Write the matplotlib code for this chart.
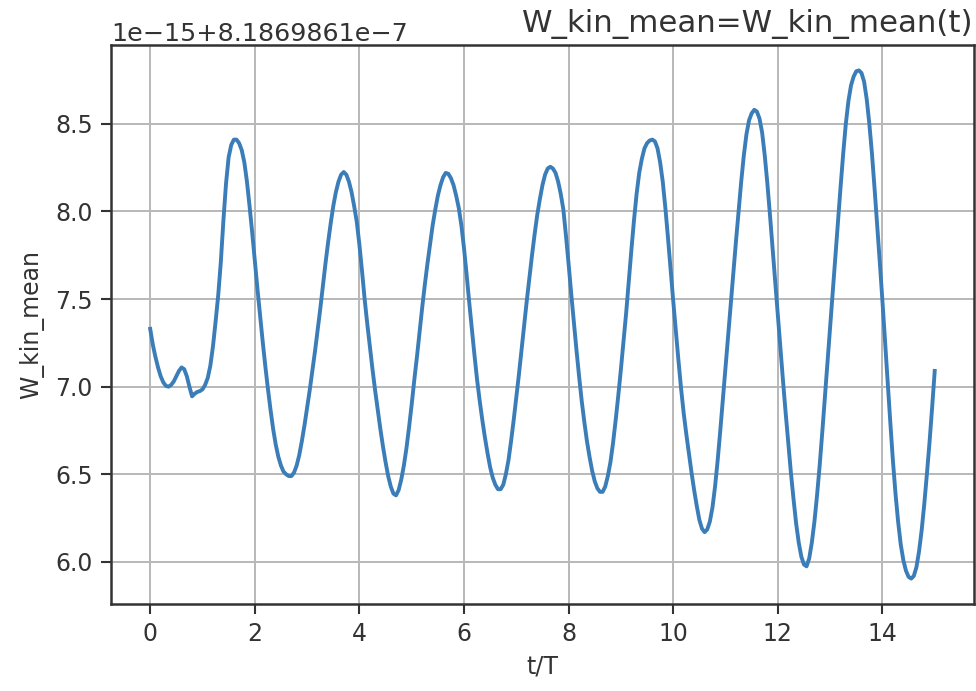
import numpy as np
import matplotlib
matplotlib.use("Agg")
import matplotlib.pyplot as plt

# W_kin_mean, in units of 1e-15 above the offset, every 0.05 t/T
base = 8.1869861e-7
scale = 1e-15
dt = 0.05
w_kin = [
    7.33, 7.24, 7.17, 7.11, 7.06, 7.025, 7.005, 7.00, 7.01, 7.03,
    7.06, 7.09, 7.11, 7.10, 7.06, 7.00, 6.945, 6.96, 6.97, 6.975,
    6.985, 7.01, 7.05, 7.12, 7.23, 7.37, 7.52, 7.71, 7.95, 8.16,
    8.31, 8.38, 8.41, 8.41, 8.39, 8.35, 8.28, 8.17, 8.03, 7.88,
    7.72, 7.56, 7.41, 7.26, 7.12, 6.99, 6.87, 6.76, 6.67, 6.60,
    6.55, 6.515, 6.50, 6.49, 6.49, 6.51, 6.55, 6.61, 6.69, 6.78,
    6.88, 6.98, 7.09, 7.20, 7.32, 7.44, 7.57, 7.70, 7.82, 7.93,
    8.03, 8.11, 8.17, 8.21, 8.225, 8.21, 8.17, 8.11, 8.03, 7.94,
    7.81, 7.66, 7.50, 7.36, 7.23, 7.10, 6.98, 6.87, 6.76, 6.66,
    6.57, 6.49, 6.43, 6.39, 6.38, 6.41, 6.47, 6.55, 6.65, 6.77,
    6.90, 7.04, 7.17, 7.31, 7.45, 7.58, 7.70, 7.81, 7.92, 8.01,
    8.09, 8.15, 8.195, 8.22, 8.215, 8.19, 8.15, 8.09, 8.02, 7.92,
    7.79, 7.64, 7.48, 7.33, 7.18, 7.04, 6.92, 6.81, 6.71, 6.62,
    6.54, 6.48, 6.44, 6.415, 6.415, 6.44, 6.50, 6.58, 6.69, 6.81,
    6.94, 7.07, 7.21, 7.35, 7.49, 7.62, 7.75, 7.87, 7.98, 8.07,
    8.15, 8.21, 8.245, 8.255, 8.245, 8.22, 8.17, 8.10, 8.01, 7.86,
    7.70, 7.53, 7.37, 7.21, 7.06, 6.92, 6.80, 6.69, 6.60, 6.52,
    6.46, 6.42, 6.40, 6.40, 6.43, 6.49, 6.57, 6.68, 6.81, 6.95,
    7.10, 7.26, 7.42, 7.60, 7.78, 7.95, 8.10, 8.22, 8.30, 8.36,
    8.39, 8.405, 8.41, 8.40, 8.36, 8.28, 8.17, 8.02, 7.85, 7.67,
    7.49, 7.32, 7.15, 6.99, 6.85, 6.73, 6.62, 6.51, 6.41, 6.32,
    6.24, 6.19, 6.17, 6.185, 6.23, 6.31, 6.43, 6.58, 6.75, 6.93,
    7.11, 7.29, 7.47, 7.65, 7.83, 8.00, 8.17, 8.32, 8.44, 8.52,
    8.56, 8.58, 8.57, 8.53, 8.45, 8.32, 8.16, 7.98, 7.79, 7.60,
    7.41, 7.22, 7.03, 6.85, 6.68, 6.51, 6.36, 6.22, 6.11, 6.03,
    5.985, 5.975, 6.02, 6.11, 6.23, 6.38, 6.55, 6.74, 6.94, 7.14,
    7.34, 7.54, 7.74, 7.94, 8.14, 8.33, 8.50, 8.63, 8.72, 8.77,
    8.80, 8.805, 8.79, 8.74, 8.64, 8.50, 8.33, 8.13, 7.92, 7.71,
    7.49, 7.26, 7.03, 6.80, 6.58, 6.39, 6.23, 6.10, 6.01, 5.95,
    5.915, 5.905, 5.92, 5.97, 6.06, 6.18, 6.33, 6.50, 6.68, 6.88,
    7.09,
]

t = np.round(np.arange(len(w_kin)) * dt, 2)
w = base + np.array(w_kin) * scale

fig = plt.figure(figsize=(9.76, 6.91), dpi=100)
ax = fig.add_axes([0.1137, 0.1259, 0.8842, 0.809])

ax.plot(t, w, color="#3a7db8", lw=2.8, solid_joinstyle="round")
ax.grid(True, color="#b8b8b8", lw=1.4)
ax.set_axisbelow(True)

ax.set_xticks(range(0, 16, 2))
ax.set_yticks([base + v * scale for v in [6.0, 6.5, 7.0, 7.5, 8.0, 8.5]])

ax.tick_params(labelsize=17, length=7, width=1.5, colors="#333333", pad=6)
ax.yaxis.get_offset_text().set_fontsize(18.3)
ax.yaxis.get_offset_text().set_color("#333333")
for s in ax.spines.values():
    s.set_linewidth(1.8)
    s.set_color("#333333")

ax.set_xlabel("t/T", fontsize=17, color="#333333", labelpad=6)
ax.set_ylabel("W_kin_mean", fontsize=17, color="#333333", labelpad=8)
ax.set_title("W_kin_mean=W_kin_mean(t)", loc="right", fontsize=22.2,
             color="#333333", pad=9)

fig.savefig("out.png", dpi=100)
